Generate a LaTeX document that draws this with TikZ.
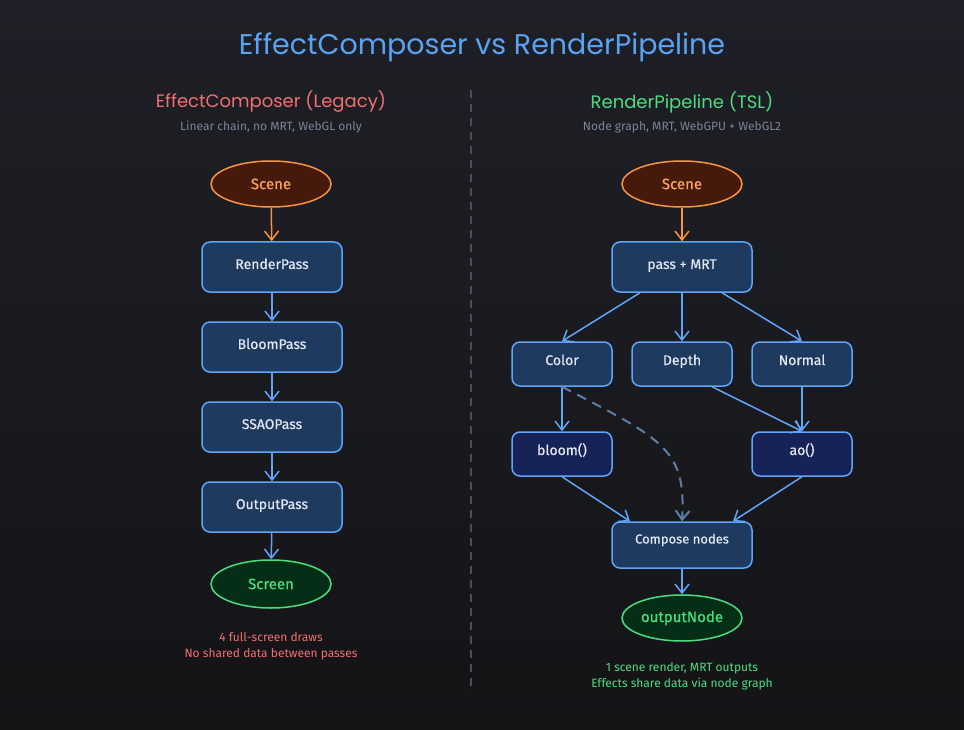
\documentclass[tikz,border=0pt]{standalone}
\usepackage{fontspec}
\setmainfont{Fira Sans}
\newfontfamily\medfont{Fira Sans}[FakeBold=0.6]
\newfontfamily\titlefont{Poppins}
\usetikzlibrary{arrows.meta,shapes.geometric}
\definecolor{bgtop}{HTML}{1F2027}
\definecolor{bgbot}{HTML}{141417}
\definecolor{titleblue}{HTML}{5AA2F2}
\definecolor{legred}{HTML}{F07070}
\definecolor{tslgreen}{HTML}{4ADE80}
\definecolor{subgray}{HTML}{7A8599}
\definecolor{boxfill}{HTML}{1E3A5F}
\definecolor{boxline}{HTML}{60A5FA}
\definecolor{fxfill}{HTML}{172356}
\definecolor{boxtext}{HTML}{E2E8F0}
\definecolor{scenefill}{HTML}{451A0A}
\definecolor{sceneline}{HTML}{F59542}
\definecolor{scenetext}{HTML}{FBA25C}
\definecolor{outfill}{HTML}{052E16}
\definecolor{divider}{HTML}{4A4E5A}
\definecolor{dashcol}{HTML}{5B7FA6}
\tikzset{
  boxstyle/.style={draw=boxline, fill=boxfill, line width=1.5pt, rounded corners=8pt,
    minimum width=140pt, minimum height=50pt, text=boxtext, font=\medfont\fontsize{14}{16}\selectfont,
    inner sep=0pt, text height=10pt, text depth=6pt},
  smallbox/.style={boxstyle, minimum width=100pt, minimum height=44pt, text height=10pt, text depth=8pt},
  fxbox/.style={smallbox, fill=fxfill},
  sceneel/.style={ellipse, draw=sceneline, fill=scenefill, line width=1.5pt, minimum width=120pt,
    minimum height=46pt, text=scenetext, font=\medfont\fontsize{15}{17}\selectfont, inner sep=0pt},
  outel/.style={ellipse, draw=tslgreen, fill=outfill, line width=1.5pt, minimum width=120pt,
    minimum height=46pt, text=tslgreen, font=\medfont\fontsize{15}{17}\selectfont, inner sep=0pt},
  arr/.style={draw=boxline, line width=1.5pt, -{Straight Barb[length=9pt,width=14pt]}},
  oarr/.style={arr, draw=sceneline},
  darr/.style={arr, draw=dashcol, line width=2pt, dash pattern=on 10pt off 7pt},
  headfont/.style={font=\titlefont\fontsize{18}{22}\selectfont},
  subfont/.style={font=\fontsize{12}{14}\selectfont, text=subgray},
  notefont/.style={font=\fontsize{12}{16}\selectfont, align=center}
}
\begin{document}
\begin{tikzpicture}[x=1pt,y=-1pt]
\shade[top color=bgtop, bottom color=bgbot] (0,0) rectangle (964,730);
\useasboundingbox (0,0) rectangle (964,730);

\node[font=\titlefont\fontsize{28.5}{32}\selectfont, text=titleblue] (title) at (482,47) {EffectComposer vs RenderPipeline};
\coordinate (divtop) at (471,90);
\coordinate (divbot) at (471,692);
\draw[divider, line width=1.2pt, dash pattern=on 8pt off 6pt] (divtop) -- (divbot);

% Left
\node[headfont, text=legred] (lhead) at (271,102) {EffectComposer (Legacy)};
\node[subfont] (lsub) at (271,127) {Linear chain, no MRT, WebGL only};
\node[sceneel] (lscene) at (271,184) {Scene};
\node[boxstyle] (rp) at (272,267) {RenderPass};
\node[boxstyle] (bp) at (272,347) {BloomPass};
\node[boxstyle] (sp) at (272,427) {SSAOPass};
\node[boxstyle] (op) at (272,507) {OutputPass};
\node[outel, minimum height=48pt] (screen) at (271,584) {Screen};
\node[notefont, text=legred] (lnote) at (271,646) {4 full-screen draws\\No shared data between passes};
\draw[oarr] (lscene) -- (rp);
\draw[arr] (rp) -- (bp);
\draw[arr] (bp) -- (sp);
\draw[arr] (sp) -- (op);
\draw[arr] (op) -- (screen);

% Right
\node[headfont, text=tslgreen] (rhead) at (682,102) {RenderPipeline (TSL)};
\node[subfont] (rsub) at (682,127) {Node graph, MRT, WebGPU + WebGL2};
\node[sceneel] (rscene) at (682,184) {Scene};
\node[boxstyle] (mrt) at (682,267) {pass + MRT};
\node[smallbox] (color) at (562,364) {Color};
\node[smallbox] (depth) at (682,364) {Depth};
\node[smallbox] (normal) at (802,364) {Normal};
\node[fxbox] (bloom) at (562,454) {bloom()};
\node[fxbox] (ao) at (802,454) {ao()};
\node[boxstyle, minimum height=46pt, font=\medfont\fontsize{13}{15}\selectfont, text height=9pt, text depth=12pt] (compose) at (682,545) {Compose nodes};
\node[outel] (outnode) at (682,618) {outputNode};
\node[notefont, text=tslgreen] (rnote) at (682,676) {1 scene render, MRT outputs\\Effects share data via node graph};

\draw[oarr] (rscene) -- (mrt);
\draw[arr] ([xshift=-42pt]mrt.south) -- (color.north);
\draw[arr] (mrt) -- (depth);
\draw[arr] ([xshift=40pt]mrt.south) -- (normal.north);
\draw[arr] (color) -- (bloom);
\draw[arr] (normal) -- (ao);
\draw[arr] ([xshift=30pt]depth.south) -- (ao.north);
\draw[darr] (color.south) .. controls (665,440) and (686,450) .. (compose.north);
\draw[arr] (bloom.south) -- ([xshift=-52pt]compose.north);
\draw[arr] (ao.south) -- ([xshift=51pt]compose.north);
\draw[arr] (compose) -- (outnode);
\end{tikzpicture}
\end{document}
